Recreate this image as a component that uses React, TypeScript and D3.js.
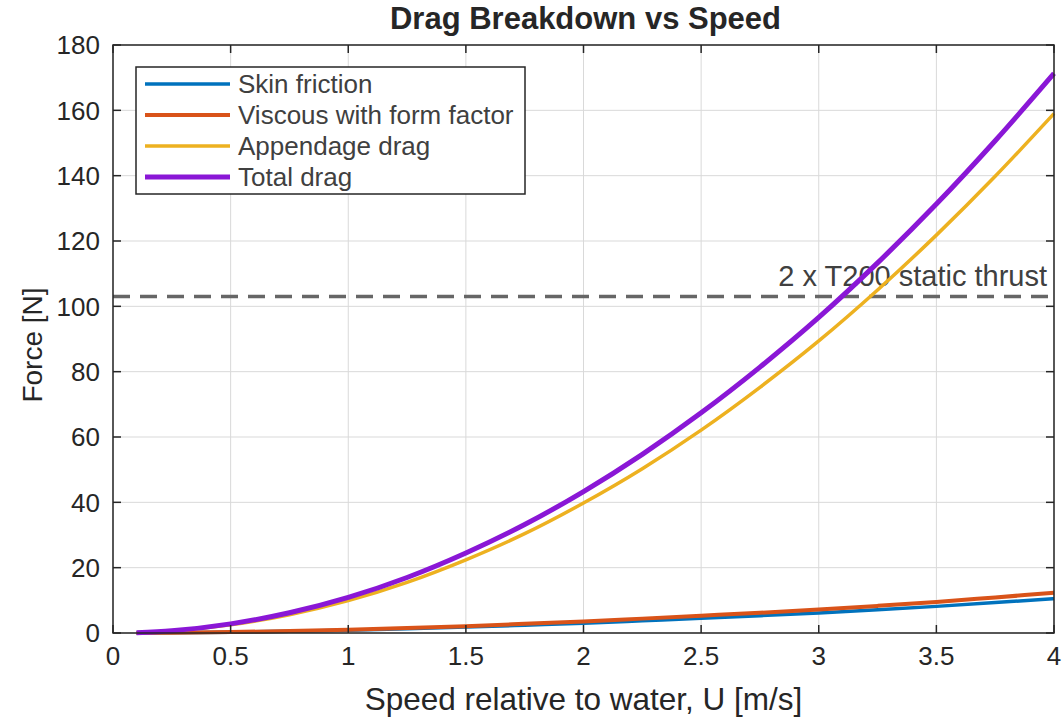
import React from 'react';
import * as d3 from 'd3';

// speed samples [m/s]
const speed = [0.1, 0.25, 0.5, 0.75, 1, 1.25, 1.5, 1.75, 2, 2.25, 2.5, 2.75, 3, 3.25, 3.5, 3.75, 4];
// drag components [N]
const skinFriction = [0.012, 0.07, 0.25, 0.52, 0.87, 1.29, 1.8, 2.4, 3.0, 3.75, 4.5, 5.3, 6.15, 7.1, 8.15, 9.3, 10.5];
const viscousForm = [0.014, 0.08, 0.29, 0.6, 1.0, 1.5, 2.1, 2.8, 3.5, 4.4, 5.3, 6.2, 7.2, 8.3, 9.5, 10.9, 12.3];
const appendage = [0.1, 0.62, 2.5, 5.6, 9.9, 15.5, 22.4, 30.4, 39.8, 50.3, 62.1, 75.2, 89.4, 105, 121.8, 139.8, 159];
const totalDrag = [0.11, 0.7, 2.8, 6.2, 10.9, 17.0, 24.5, 33.2, 43.3, 54.7, 67.4, 81.4, 96.6, 113.3, 131.3, 150.7, 171.3];
const thrust = 103;

const xTicks = [0, 0.5, 1, 1.5, 2, 2.5, 3, 3.5, 4];
const yTicks = [0, 20, 40, 60, 80, 100, 120, 140, 160, 180];

const series = [
  { name: 'Skin friction', values: skinFriction, color: '#0072BD', width: 3.5 },
  { name: 'Viscous with form factor', values: viscousForm, color: '#D95319', width: 4 },
  { name: 'Appendage drag', values: appendage, color: '#EDB120', width: 3.5 },
  { name: 'Total drag', values: totalDrag, color: '#8A17D6', width: 5 },
];

const W = 1064, H = 719;
const left = 113, right = 1054, top = 45, bottom = 633;
const font = '"Liberation Sans", Arial, sans-serif';
const ink = '#262626';

export default function App() {
  const x = d3.scaleLinear().domain([0, 4]).range([left, right]);
  const y = d3.scaleLinear().domain([0, 180]).range([bottom, top]);
  const line = d3.line<number>().x((_, i) => x(speed[i])).y(d => y(d)).curve(d3.curveMonotoneX);

  return (
    <svg width={W} height={H} style={{ position: 'absolute', left: 0, top: 0, background: '#fff' }} fontFamily={font}>
      <rect x={0} y={0} width={W} height={H} fill="#fff" />
      {/* grid */}
      {xTicks.map(t => (
        <line key={'gx' + t} x1={x(t)} x2={x(t)} y1={top} y2={bottom} stroke="#d9d9d9" strokeWidth={1} />
      ))}
      {yTicks.map(t => (
        <line key={'gy' + t} x1={left} x2={right} y1={y(t)} y2={y(t)} stroke="#d9d9d9" strokeWidth={1} />
      ))}
      {/* thrust line */}
      <line x1={left} x2={right} y1={y(thrust)} y2={y(thrust)} stroke="#666" strokeWidth={3.5} strokeDasharray="17 10" />
      <text x={1047} y={y(thrust) - 11} textAnchor="end" fontSize={29} fill="#404040">2 x T200 static thrust</text>
      {/* curves */}
      {series.map(s => (
        <path key={s.name} d={line(s.values) || ''} fill="none" stroke={s.color} strokeWidth={s.width} />
      ))}
      {/* axes box and ticks */}
      <rect x={left} y={top} width={right - left} height={bottom - top} fill="none" stroke={ink} strokeWidth={1.5} />
      {xTicks.map(t => (
        <g key={'tx' + t}>
          <line x1={x(t)} x2={x(t)} y1={bottom} y2={bottom - 8} stroke={ink} strokeWidth={1.5} />
          <line x1={x(t)} x2={x(t)} y1={top} y2={top + 8} stroke={ink} strokeWidth={1.5} />
          <text x={x(t)} y={bottom + 14} dy="0.71em" textAnchor="middle" fontSize={26} fill={ink}>{t}</text>
        </g>
      ))}
      {yTicks.map(t => (
        <g key={'ty' + t}>
          <line x1={left} x2={left + 8} y1={y(t)} y2={y(t)} stroke={ink} strokeWidth={1.5} />
          <line x1={right} x2={right - 8} y1={y(t)} y2={y(t)} stroke={ink} strokeWidth={1.5} />
          <text x={left - 13} y={y(t)} dy="0.36em" textAnchor="end" fontSize={26} fill={ink}>{t}</text>
        </g>
      ))}
      {/* labels */}
      <text x={(left + right) / 2 + 2} y={29} textAnchor="middle" fontSize={31} fontWeight="bold" fill={ink}>Drag Breakdown vs Speed</text>
      <text x={(left + right) / 2} y={710} textAnchor="middle" fontSize={31.5} fill={ink}>Speed relative to water, U [m/s]</text>
      <text transform={`translate(42,${(top + bottom) / 2 + 6}) rotate(-90)`} textAnchor="middle" fontSize={28} fill={ink}>Force [N]</text>
      {/* legend */}
      <rect x={136} y={67} width={389} height={127} fill="#fff" stroke={ink} strokeWidth={1.5} />
      {series.map((s, i) => (
        <g key={'lg' + s.name}>
          <line x1={145} x2={230} y1={84 + i * 31} y2={84 + i * 31} stroke={s.color} strokeWidth={s.width} />
          <text x={238} y={84 + i * 31} dy="0.36em" fontSize={26} fill="#404040">{s.name}</text>
        </g>
      ))}
    </svg>
  );
}
